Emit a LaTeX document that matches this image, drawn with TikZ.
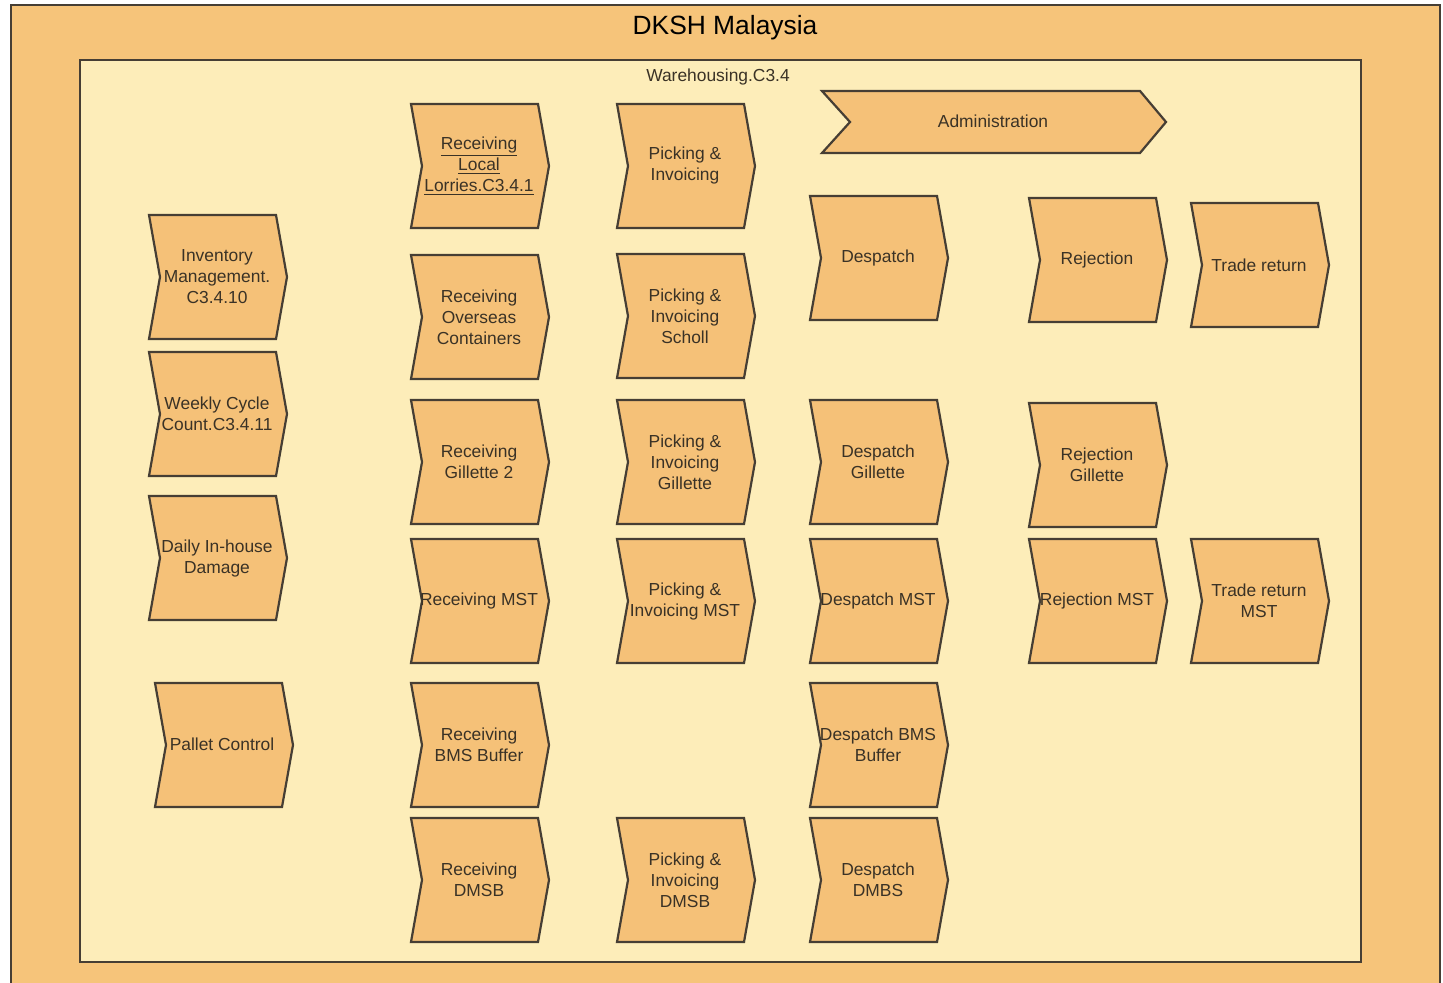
\documentclass[tikz,border=0pt]{standalone}
\usepackage{fontspec}
\setmainfont{Liberation Sans}
\definecolor{outerfill}{HTML}{F6C47A}
\definecolor{innerfill}{HTML}{FDEDB9}
\definecolor{boxfill}{HTML}{F5C178}
\definecolor{edge}{HTML}{463E34}
\definecolor{txtcol}{HTML}{3A3226}
\tikzset{
  frame/.style={draw=edge, line width=1pt},
  chevshape/.style={draw=edge, fill=boxfill, line width=1.1pt, line join=miter},
  chevtxt/.style={text=txtcol, align=center, font=\fontsize{8.7}{10.5}\selectfont, inner sep=0pt},
}
\newcommand\chevbox[5]{%
  \draw[chevshape] (#2,#3) -- ++(127,0) -- ++(11,62) -- ++(-11,62) -- ++(-127,0) -- ++(11,-62) -- cycle;
  \node[chevtxt] (#1) at (#2+68,#3+62) {#5};}
\begin{document}
\begin{tikzpicture}[x=0.5pt,y=-0.5pt]
\useasboundingbox (0,0) rectangle (1443,983);
\fill[white] (0,0) rectangle (1443,983);
\draw[frame, fill=outerfill] (11,5) rectangle (1440,1000);
\draw[frame, fill=innerfill] (80,60) rectangle (1361,962);
\node[text=black, font=\fontsize{13.2}{15}\selectfont, inner sep=0pt] (title) at (725,28) {DKSH Malaysia};
\node[chevtxt] (wh) at (718,77) {Warehousing.C3.4};
% Administration
\draw[chevshape] (822,91) -- (1140,91) -- (1166,122) -- (1140,153) -- (822,153) -- (850,122) -- cycle;
\node[chevtxt] (admin) at (993,121) {Administration};
% column A
\chevbox{inv}{149}{215}{}{Inventory\\Management.\\C3.4.10}
\chevbox{wcc}{149}{352}{}{Weekly Cycle\\Count.C3.4.11}
\chevbox{dih}{149}{496}{}{Daily In-house\\Damage}
\draw[chevshape] (155,683) -- ++(127,0) -- ++(11,62) -- ++(-11,62) -- ++(-127,0) -- ++(11,-62) -- cycle;
\node[chevtxt] (pal) at (222,744) {Pallet Control};
% column B
\chevbox{rll}{411}{104}{}{\underline{Receiving}\\\underline{Local}\\\underline{Lorries.C3.4.1}}
\chevbox{roc}{411}{255}{}{Receiving\\Overseas\\Containers}
\chevbox{rg2}{411}{400}{}{Receiving\\Gillette 2}
\chevbox{rmst}{411}{539}{}{Receiving MST}
\chevbox{rbms}{411}{683}{}{Receiving\\BMS Buffer}
\chevbox{rdmsb}{411}{818}{}{Receiving\\DMSB}
% column C
\chevbox{pi}{617}{104}{}{Picking \&\\Invoicing}
\chevbox{pis}{617}{254}{}{Picking \&\\Invoicing\\Scholl}
\chevbox{pig}{617}{400}{}{Picking \&\\Invoicing\\Gillette}
\chevbox{pimst}{617}{539}{}{Picking \&\\Invoicing MST}
\chevbox{pidmsb}{617}{818}{}{Picking \&\\Invoicing\\DMSB}
% column D
\chevbox{des}{810}{196}{}{Despatch}
\chevbox{desg}{810}{400}{}{Despatch\\Gillette}
\chevbox{desmst}{810}{539}{}{Despatch MST}
\chevbox{desbms}{810}{683}{}{Despatch BMS\\Buffer}
\chevbox{desdmbs}{810}{818}{}{Despatch\\DMBS}
% column E
\chevbox{rej}{1029}{198}{}{Rejection}
\chevbox{rejg}{1029}{403}{}{Rejection\\Gillette}
\chevbox{rejmst}{1029}{539}{}{Rejection MST}
% column F
\chevbox{tr}{1191}{203}{}{Trade return}
\chevbox{trmst}{1191}{539}{}{Trade return\\MST}
\end{tikzpicture}
\end{document}
